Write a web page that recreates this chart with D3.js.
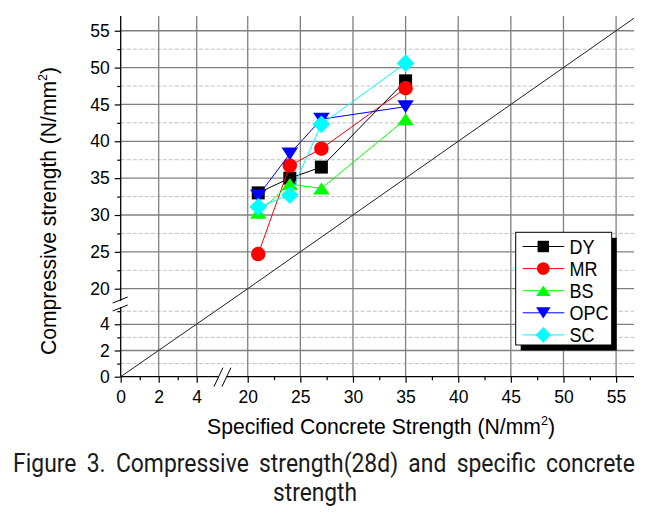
<!DOCTYPE html>
<html><head><meta charset="utf-8">
<script src="https://cdn.jsdelivr.net/npm/d3@7"></script>
<style>body{margin:0;background:#fff}svg{display:block}</style>
</head><body>
<svg id="c" width="653" height="518"></svg>
<script>
// ---- data ----
const xValues = [21, 24, 27, 35];
const seriesNames = ["DY", "MR", "BS", "OPC", "SC"];
const DY  = [33.0, 35.0, 36.5, 48.2];
const MR  = [24.7, 36.7, 39.0, 47.2];
const BS  = [30.3, 34.2, 33.6, 43.0];
const OPC = [32.6, 38.3, 43.0, 44.7];
const SC  = [31.1, 32.7, 42.3, 50.6];
const xMajorTicks = [0, 2, 4, 20, 25, 30, 35, 40, 45, 50, 55];
const xMinorTicks = [1, 3, 22.5, 27.5, 32.5, 37.5, 42.5, 47.5, 52.5];
const yMajorTicks = [0, 2, 4, 20, 25, 30, 35, 40, 45, 50, 55];
const yMinorTicks = [1, 3, 5, 22.5, 27.5, 32.5, 37.5, 42.5, 47.5, 52.5];
const refLine = [[0, 0], [20, 20], [56.7, 56.7]];
const xTitle = "Specified Concrete Strength (N/mm";
const yTitle = "Compressive strength (N/mm";
const captionLines = ["Figure 3. Compressive strength(28d) and specific concrete", "strength"];

// ---- styles ----
const colors = {DY: "#000000", MR: "#ff0000", BS: "#00ff00", OPC: "#0000ff", SC: "#00ffff"};
const shapes = {DY: "square", MR: "circle", BS: "up", OPC: "down", SC: "diamond"};
const seriesData = {DY, MR, BS, OPC, SC};

const svg = d3.select("#c");
const FONT = "'Liberation Sans', Arimo, sans-serif";

// broken scales (piecewise linear)
const x = d3.scaleLinear().domain([0, 5.3, 17.7, 56.7]).range([120.7, 221.4, 223.5, 634]);
const y = d3.scaleLinear().domain([0, 5.45, 18.1, 57]).range([376.7, 305.3, 302.7, 16.0]);
const X0 = x(0), X1 = x(56.7), Y0 = y(0), Y1 = y(57);

// grid
const grid = svg.append("g");
grid.selectAll(".hmin").data(yMinorTicks).join("line")
  .attr("x1", X0).attr("x2", X1).attr("y1", d => y(d)).attr("y2", d => y(d))
  .attr("stroke", "#c0c0c0").attr("stroke-width", 1).attr("stroke-dasharray", "4,2");
grid.selectAll(".hmaj").data(yMajorTicks.filter(d => d !== 0)).join("line")
  .attr("x1", X0).attr("x2", X1).attr("y1", d => y(d)).attr("y2", d => y(d))
  .attr("stroke", "#808080").attr("stroke-width", 1.3);
grid.selectAll(".vmaj").data(xMajorTicks.filter(d => d !== 0)).join("line")
  .attr("y1", Y0).attr("y2", Y1).attr("x1", d => x(d)).attr("x2", d => x(d))
  .attr("stroke", "#808080").attr("stroke-width", 1.3);

// reference 1:1 line
svg.append("path").datum(refLine)
  .attr("d", d3.line().x(d => x(d[0])).y(d => y(d[1])))
  .attr("fill", "none").attr("stroke", "#222").attr("stroke-width", 1);

// axes
function styleAxis(g) {
  g.attr("font-family", FONT).attr("font-size", 17.5);
  g.select(".domain").remove();
  g.selectAll("line").attr("stroke", "#000").attr("stroke-width", 1.2);
  g.selectAll("text").attr("font-family", FONT).attr("font-size", 17.5).attr("fill", "#000");
}
svg.append("g").attr("transform", `translate(0,${Y0})`)
  .call(d3.axisBottom(x).tickValues(xMajorTicks).tickSize(6).tickPadding(8).tickFormat(d3.format("d")))
  .call(styleAxis);
svg.append("g").attr("transform", `translate(0,${Y0})`)
  .call(d3.axisBottom(x).tickValues(xMinorTicks).tickSize(3.5).tickFormat(""))
  .call(styleAxis);
svg.append("g").attr("transform", `translate(${X0},0)`)
  .call(d3.axisLeft(y).tickValues(yMajorTicks).tickSize(6).tickPadding(5).tickFormat(d3.format("d")))
  .call(styleAxis);
svg.append("g").attr("transform", `translate(${X0},0)`)
  .call(d3.axisLeft(y).tickValues(yMinorTicks).tickSize(3.5).tickFormat(""))
  .call(styleAxis);

// axis lines with breaks
const xb = (x(5.3) + x(17.7)) / 2, yb = (y(5.45) + y(18.1)) / 2;
const ax = svg.append("g").attr("stroke", "#000").attr("stroke-width", 1.3);
ax.append("line").attr("x1", X0).attr("x2", xb - 4).attr("y1", Y0).attr("y2", Y0);
ax.append("line").attr("x1", xb + 4).attr("x2", X1).attr("y1", Y0).attr("y2", Y0);
ax.append("line").attr("x1", X0).attr("x2", X0).attr("y1", Y0).attr("y2", yb + 3);
ax.append("line").attr("x1", X0).attr("x2", X0).attr("y1", yb - 3).attr("y2", Y1);
const br = svg.append("g").attr("stroke", "#000").attr("stroke-width", 1);
[-4, 4].forEach(o => {
  br.append("line").attr("x1", xb + o - 4.5).attr("y1", Y0 + 10).attr("x2", xb + o + 4.5).attr("y2", Y0 - 9);
  br.append("line").attr("x1", X0 - 8).attr("y1", yb + o + 3).attr("x2", X0 + 7).attr("y2", yb + o - 3);
});

// markers
function markerPath(shape, s) {
  const h = s / 2;
  switch (shape) {
    case "square": return `M${-h},${-h}H${h}V${h}H${-h}Z`;
    case "circle": return `M${-h},0A${h},${h} 0 1,0 ${h},0A${h},${h} 0 1,0 ${-h},0Z`;
    case "up": return `M0,${-h*0.8}L${h*1.1},${h*0.8}L${-h*1.1},${h*0.8}Z`;
    case "down": return `M0,${h*0.85}L${h*1.1},${-h*0.85}L${-h*1.1},${-h*0.85}Z`;
    case "diamond": return `M0,${-h*1.22}L${h*1.22},0L0,${h*1.22}L${-h*1.22},0Z`;
  }
}
const markerSize = {square: 13, circle: 14.5, up: 15, down: 15, diamond: 14.5};

const lineGen = d3.line().x(d => x(d[0])).y(d => y(d[1]));
seriesNames.forEach(name => {
  const pts = xValues.map((xv, i) => [xv, seriesData[name][i]]);
  const g = svg.append("g");
  g.append("path").datum(pts).attr("d", lineGen)
    .attr("fill", "none").attr("stroke", colors[name]).attr("stroke-width", 1);
  g.selectAll("path.m").data(pts).join("path").attr("class", "m")
    .attr("transform", d => `translate(${x(d[0])},${y(d[1])})`)
    .attr("d", markerPath(shapes[name], markerSize[shapes[name]]))
    .attr("fill", colors[name]);
});

// legend
const lg = svg.append("g");
const L = {x: 515.7, y: 232.3, w: 96, h: 112.7};
lg.append("rect").attr("x", L.x + 5).attr("y", L.y + 5.5).attr("width", L.w).attr("height", L.h).attr("fill", "#000");
lg.append("rect").attr("x", L.x).attr("y", L.y).attr("width", L.w).attr("height", L.h)
  .attr("fill", "#fff").attr("stroke", "#000").attr("stroke-width", 1);
const legendTexts = [];
seriesNames.forEach((name, i) => {
  const cy = 246.5 + i * 22.1;
  lg.append("line").attr("x1", 522.7).attr("x2", 564.3).attr("y1", cy).attr("y2", cy)
    .attr("stroke", colors[name]).attr("stroke-width", 1);
  lg.append("path").attr("transform", `translate(543.3,${cy})`)
    .attr("d", markerPath(shapes[name], markerSize[shapes[name]] * 0.88)).attr("fill", colors[name]);
  const t = lg.append("g").attr("transform", `translate(569.5,${cy + 7.3})`);
  legendTexts.push(t.append("text").attr("font-family", FONT).attr("font-size", 21).attr("fill", "#000").text(name));
});
// condense legend text to reference width
const opcW = legendTexts[3].node().getComputedTextLength();
const lf = 39 / opcW;
legendTexts.forEach(t => d3.select(t.node().parentNode).attr("transform", d3.select(t.node().parentNode).attr("transform") + ` scale(${lf},1)`));

// axis titles
function titleWithSup(g, txt) {
  const t = g.append("text").attr("font-family", FONT).attr("font-size", 22).attr("fill", "#000").attr("text-anchor", "middle");
  t.append("tspan").text(txt);
  t.append("tspan").attr("font-size", 13).attr("dy", -9).text("2");
  t.append("tspan").attr("dy", 9).text(")");
  return t;
}
const gx = svg.append("g");
const tx = titleWithSup(gx, xTitle);
const wx = tx.node().getBBox().width;
gx.attr("transform", `translate(381,433.5) scale(${348 / wx},1)`);

const gy = svg.append("g");
const ty = titleWithSup(gy, yTitle);
const wy = ty.node().getBBox().width;
gy.attr("transform", `translate(55.5,211) rotate(-90) scale(${288 / wy},1)`);

// caption
const capFont = "Roboto, 'DejaVu Sans Condensed', sans-serif";
const capSpecs = [{cx: 324, by: 471.7, w: 622}, {cx: 315, by: 501, w: 84}];
captionLines.forEach((line, i) => {
  const g = svg.append("g");
  const t = g.append("text").attr("font-family", capFont).attr("font-size", 25)
    .attr("fill", "#1a1a1a").attr("text-anchor", "middle").attr("word-spacing", "5px").text(line);
  const w = t.node().getBBox().width;
  g.attr("transform", `translate(${capSpecs[i].cx},${capSpecs[i].by}) scale(${capSpecs[i].w / w},1)`);
});
</script>
</body></html>
